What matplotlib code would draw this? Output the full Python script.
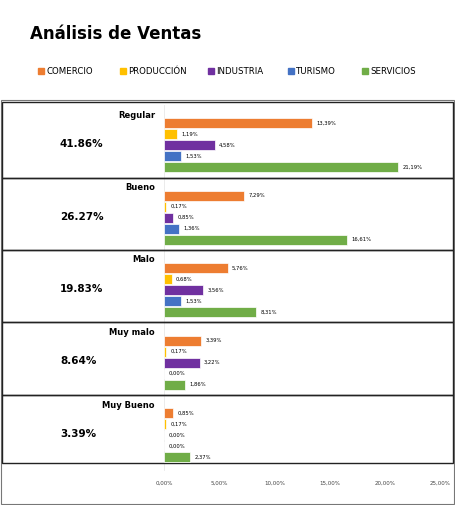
import matplotlib
matplotlib.use("Agg")
import matplotlib.pyplot as plt
from matplotlib.patches import Rectangle

groups = ["Regular", "Bueno", "Malo", "Muy malo", "Muy Bueno"]
totals = ["41.86%", "26.27%", "19.83%", "8.64%", "3.39%"]
series = ["COMERCIO", "PRODUCCIÓN", "INDUSTRIA", "TURISMO", "SERVICIOS"]
colors = ["#ED7D31", "#FFC000", "#7030A0", "#4472C4", "#70AD47"]
values = [
    [13.39, 1.19, 4.58, 1.53, 21.19],
    [7.29, 0.17, 0.85, 1.36, 16.61],
    [5.76, 0.68, 3.56, 1.53, 8.31],
    [3.39, 0.17, 3.22, 0.00, 1.86],
    [0.85, 0.17, 0.00, 0.00, 2.37],
]
xticks = [0, 5, 10, 15, 20, 25]

W, H = 455, 505
fig = plt.figure(figsize=(W/100, H/100), dpi=100)
ax = fig.add_axes([0, 0, 1, 1])
px = 276/25.0
x0 = 164
ax.set_xlim(-x0/px, (W-x0)/px)
ax.set_ylim(H, 0)
ax.axis("off")

def fx(p):  # pixel x to data
    return (p - x0)/px

fig.text(30/W, 1-34/H, "Análisis de Ventas", fontsize=12, fontweight="bold", va="center")
lx = [38, 120, 208, 288, 362]
for i, s in enumerate(series):
    ax.add_patch(Rectangle((fx(lx[i]), 68), 6/px, 6, color=colors[i]))
    ax.text(fx(lx[i]+8), 71, s, fontsize=6.2, va="center")

ax.add_patch(Rectangle((fx(1), 100), (W-2)/px, 404, fill=False, ec="#777777", lw=0.8))
bounds = [102, 178, 250, 322, 395, 463]
for k in range(5):
    ax.add_patch(Rectangle((fx(2), bounds[k]), (W-4)/px, bounds[k+1]-bounds[k],
                           fill=False, ec="#222222", lw=1.0))
ax.plot([0, 0], [105, 470], color="#e8e8e8", lw=0.6, zorder=0)

for g, name in enumerate(groups):
    base = 123 + g*72.5
    ax.text(fx(155), base-8, name, fontsize=6, fontweight="bold", ha="right", va="center")
    ax.text(fx(60), base+21, totals[g], fontsize=7.5, fontweight="bold", ha="left", va="center")
    for i, v in enumerate(values[g]):
        y = base + i*11
        ax.barh(y, v, height=10, color=colors[i], edgecolor="white", lw=0.5)
        ax.text(v + 0.4, y, f"{v:.2f}%".replace(".", ","), fontsize=3.8, va="center")

for t in xticks:
    ax.text(t, 483, f"{t:.2f}%".replace(".", ","), fontsize=4, ha="center", va="center", color="#444444")

fig.savefig("out.png", dpi=100)
